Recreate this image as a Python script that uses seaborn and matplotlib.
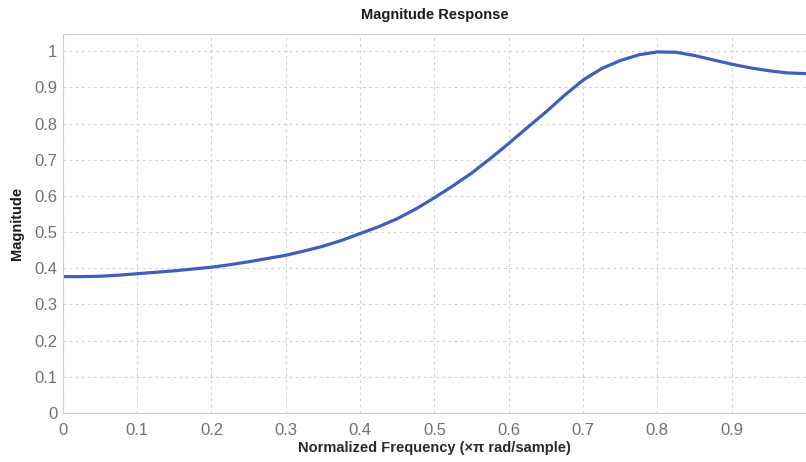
import matplotlib
matplotlib.use("Agg")
import matplotlib.pyplot as plt
import seaborn as sns
import pandas as pd

# Normalized frequency (x pi rad/sample) and magnitude of the filter response
freq = [0.0, 0.025, 0.05, 0.075, 0.1, 0.125, 0.15, 0.175, 0.2, 0.225,
        0.25, 0.275, 0.3, 0.325, 0.35, 0.375, 0.4, 0.425, 0.45, 0.475,
        0.5, 0.525, 0.55, 0.575, 0.6, 0.625, 0.65, 0.675, 0.7, 0.725,
        0.75, 0.775, 0.8, 0.825, 0.85, 0.875, 0.9, 0.925, 0.95, 0.975, 1.0]
magnitude = [0.377, 0.377, 0.378, 0.381, 0.385, 0.389, 0.393, 0.398, 0.403, 0.410,
             0.418, 0.427, 0.436, 0.448, 0.461, 0.477, 0.496, 0.515, 0.537, 0.564,
             0.595, 0.628, 0.663, 0.703, 0.745, 0.789, 0.832, 0.878, 0.920, 0.952,
             0.974, 0.990, 0.998, 0.997, 0.988, 0.976, 0.964, 0.954, 0.946, 0.940, 0.938]

x_ticks = [0, 0.1, 0.2, 0.3, 0.4, 0.5, 0.6, 0.7, 0.8, 0.9]
x_tick_labels = ["0", "0.1", "0.2", "0.3", "0.4", "0.5", "0.6", "0.7", "0.8", "0.9"]
y_ticks = [0, 0.1, 0.2, 0.3, 0.4, 0.5, 0.6, 0.7, 0.8, 0.9, 1.0]
y_tick_labels = ["0", "0.1", "0.2", "0.3", "0.4", "0.5", "0.6", "0.7", "0.8", "0.9", "1"]

sns.set_theme(style="white")
fonts = ["Liberation Sans Narrow", "Liberation Sans", "DejaVu Sans"]
plt.rcParams["font.family"] = fonts

df = pd.DataFrame({"freq": freq, "magnitude": magnitude})

fig = plt.figure(figsize=(8.06, 4.62), dpi=100)
ax = fig.add_axes([0.078, 0.106, 0.922, 0.820])

sns.lineplot(data=df, x="freq", y="magnitude", ax=ax, color="#3f5fbf",
             linewidth=2.3)

ax.set_xlim(0, 1.0)
ax.set_ylim(0, 1.047)
ax.set_xticks(x_ticks)
ax.set_xticklabels(x_tick_labels)
ax.set_yticks(y_ticks)
ax.set_yticklabels(y_tick_labels)

ax.grid(True, linestyle=(0, (2.5, 3)), color="#d0d0da", linewidth=0.8)
ax.tick_params(axis="both", labelsize=12, labelcolor="#70707a", length=0)
ax.tick_params(axis="x", pad=7)
ax.tick_params(axis="y", pad=4)

for side in ["left", "bottom", "top"]:
    ax.spines[side].set_color("#cdcdd5")
    ax.spines[side].set_linewidth(0.8)
ax.spines["right"].set_visible(False)

ax.set_title("Magnitude Response", fontsize=10.5, fontweight="bold",
             color="#1a1a1a", pad=11)
ax.set_xlabel("Normalized Frequency (\u00d7\u03c0 rad/sample)", fontsize=10.5,
              fontweight="bold", color="#2a2a2a", labelpad=2)
ax.set_ylabel("Magnitude", fontsize=10.5, fontweight="bold", color="#1a1a1a")
ax.yaxis.set_label_coords(-0.052, 0.5)

fig.savefig("out.png", dpi=100)
